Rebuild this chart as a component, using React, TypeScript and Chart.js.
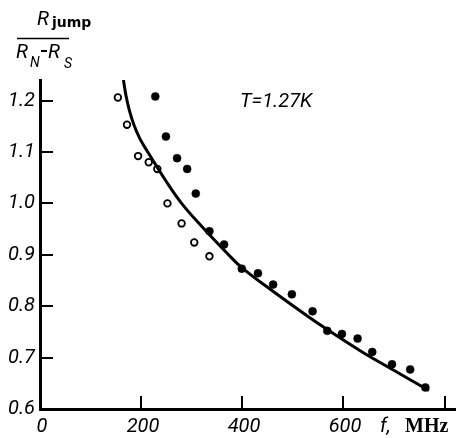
import React, { useEffect, useRef } from "react";
import { Chart, registerables } from "chart.js";

Chart.register(...registerables);

// Filled circles
const filledX = [228, 249, 271, 291, 308, 335, 364, 399, 431, 461, 498, 539, 568, 597, 628, 657, 696, 732, 762];
const filledY = [1.208, 1.13, 1.088, 1.067, 1.019, 0.946, 0.92, 0.873, 0.864, 0.842, 0.823, 0.79, 0.752, 0.746, 0.737, 0.711, 0.687, 0.677, 0.642];
// Open circles
const openX = [154, 172, 194, 215, 232, 252, 280, 305, 335];
const openY = [1.206, 1.153, 1.092, 1.08, 1.067, 1.0, 0.961, 0.924, 0.897];
// Solid curve
const curveX = [165, 170, 177, 186, 198, 215, 250, 280, 320, 371, 399, 462, 530, 572, 637, 702, 769];
const curveY = [1.24, 1.21, 1.18, 1.152, 1.125, 1.097, 1.042, 1.0, 0.955, 0.902, 0.875, 0.828, 0.78, 0.752, 0.711, 0.674, 0.636];

const xTickValues = [0, 200, 400, 600, 800];
const xTickLabels = ["0", "200", "400", "600", ""];
const yTickValues = [0.6, 0.7, 0.8, 0.9, 1.0, 1.1, 1.2];
const yTickLabels = ["0.6", "0.7", "0.8", "0.9", "1.0", "1.1", "1.2"];

const X_MIN = 0;
const X_MAX = 821;
const Y_MIN = 0.6;
const Y_MAX = 1.24;

const TICK_FONT = "Roboto, 'DejaVu Sans', sans-serif";

const toPts = (xs: number[], ys: number[]) => xs.map((x, i) => ({ x, y: ys[i] }));

const decorPlugin = {
  id: "decor",
  afterDraw(chart: any) {
    const ctx = chart.ctx as CanvasRenderingContext2D;
    const xs = chart.scales.x;
    const ys = chart.scales.y;
    const area = chart.chartArea;
    ctx.save();
    ctx.strokeStyle = "#000";
    ctx.fillStyle = "#000";
    ctx.lineWidth = 2;
    // inward ticks on y axis
    ys.ticks.forEach((t: any) => {
      if (t.value <= Y_MIN + 1e-9) return;
      const py = Math.round(ys.getPixelForValue(t.value));
      ctx.beginPath();
      ctx.moveTo(area.left, py);
      ctx.lineTo(area.left + 13, py);
      ctx.stroke();
    });
    // inward ticks + labels on x axis
    ctx.font = "italic 20px " + TICK_FONT;
    ctx.textAlign = "center";
    ctx.textBaseline = "alphabetic";
    xs.ticks.forEach((t: any) => {
      const px = Math.round(xs.getPixelForValue(t.value));
      if (t.value > X_MIN + 1e-9) {
        ctx.beginPath();
        ctx.moveTo(px, area.bottom);
        ctx.lineTo(px, area.bottom - 13);
        ctx.stroke();
      }
      const idx = xTickValues.indexOf(t.value);
      const lbl = idx >= 0 ? xTickLabels[idx] : "";
      if (lbl) ctx.fillText(lbl, px + 2, 432);
    });

    ctx.textAlign = "left";
    // Y title: R_jump / (R_N - R_S)
    ctx.font = "italic 20px " + TICK_FONT;
    ctx.fillText("R", 37, 25);
    ctx.font = "bold 14px 'DejaVu Sans', sans-serif";
    ctx.fillText("jump", 52, 27);
    ctx.lineWidth = 1.5;
    ctx.beginPath();
    ctx.moveTo(17, 38.5);
    ctx.lineTo(69, 38.5);
    ctx.stroke();
    ctx.font = "italic 20px " + TICK_FONT;
    ctx.fillText("R", 16, 58);
    ctx.font = "italic 14px " + TICK_FONT;
    ctx.fillText("N", 30, 67);
    ctx.lineWidth = 2;
    ctx.beginPath();
    ctx.moveTo(41, 51);
    ctx.lineTo(47, 51);
    ctx.stroke();
    ctx.font = "italic 20px " + TICK_FONT;
    ctx.fillText("R", 48, 58);
    ctx.font = "italic 14px " + TICK_FONT;
    ctx.fillText("S", 64, 68);

    // Temperature annotation
    ctx.font = "italic 20px " + TICK_FONT;
    ctx.fillText("T=1.27K", 240, 107);

    // X axis unit label
    ctx.font = "italic 20px " + TICK_FONT;
    ctx.fillText("f,", 380, 432);
    ctx.font = "bold 20px 'Liberation Serif', 'Times New Roman', serif";
    ctx.fillText("MHz", 405, 432);
    ctx.restore();
  },
};

export default function App() {
  const ref = useRef<HTMLCanvasElement | null>(null);
  useEffect(() => {
    if (!ref.current) return;
    const chart = new Chart(ref.current, {
      type: "scatter",
      data: {
        datasets: [
          {
            type: "line",
            label: "fit",
            data: toPts(curveX, curveY),
            borderColor: "#000",
            borderWidth: 3,
            pointRadius: 0,
            fill: false,
            tension: 0.4,
            showLine: true,
          } as any,
          {
            label: "filled",
            data: toPts(filledX, filledY),
            pointRadius: 4,
            pointBackgroundColor: "#000",
            pointBorderColor: "#000",
            pointBorderWidth: 0.5,
          },
          {
            label: "open",
            data: toPts(openX, openY),
            pointRadius: 3.3,
            pointBackgroundColor: "#fff",
            pointBorderColor: "#000",
            pointBorderWidth: 1.8,
          },
        ],
      },
      options: {
        animation: false,
        responsive: false,
        maintainAspectRatio: false,
        layout: { padding: { top: 80, right: 0, left: 0, bottom: 0 } },
        plugins: {
          legend: { display: false },
          tooltip: { enabled: false },
          title: { display: false },
        },
        scales: {
          x: {
            type: "linear",
            min: X_MIN,
            max: X_MAX,
            afterBuildTicks: (s: any) => {
              s.ticks = xTickValues.map((v) => ({ value: v }));
            },
            afterFit: (s: any) => {
              s.height = 29;
            },
            border: { display: true, color: "#000", width: 3 },
            grid: { display: true, drawOnChartArea: false, drawTicks: false },
            ticks: { display: false, autoSkip: false },
          },
          y: {
            type: "linear",
            min: Y_MIN,
            max: Y_MAX,
            afterBuildTicks: (s: any) => {
              s.ticks = yTickValues.map((v) => ({ value: v }));
            },
            afterFit: (s: any) => {
              s.width = 40;
            },
            border: { display: true, color: "#000", width: 3 },
            grid: { display: true, drawOnChartArea: false, drawTicks: false },
            ticks: {
              autoSkip: false,
              padding: 5,
              color: "#000",
              font: { family: TICK_FONT, size: 20, style: "italic" },
              callback: (v: any, i: number) => yTickLabels[i] ?? "",
            },
          },
        },
      } as any,
      plugins: [decorPlugin],
    });
    return () => chart.destroy();
  }, []);
  return (
    <div style={{ position: "fixed", left: 0, top: 0, width: 461, height: 438, background: "#fff" }}>
      <canvas ref={ref} width={461} height={438} style={{ width: 461, height: 438, display: "block" }} />
    </div>
  );
}
